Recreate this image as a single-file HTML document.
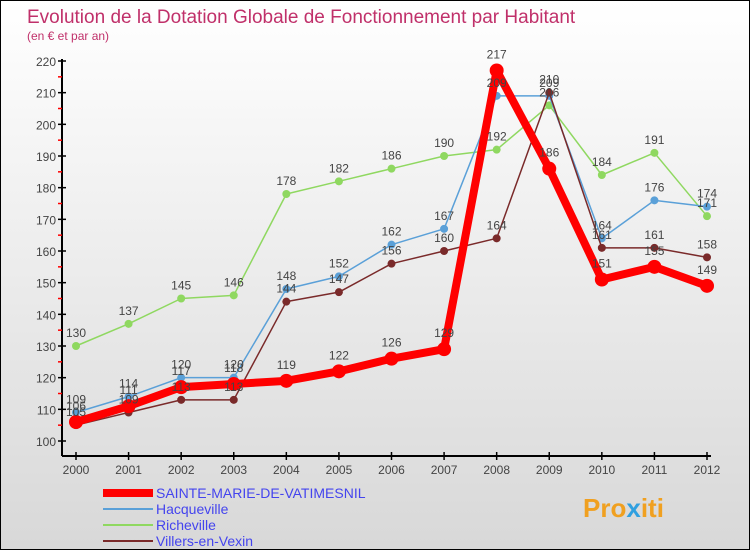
<!DOCTYPE html>
<html><head><meta charset="utf-8"><style>
body{margin:0;width:750px;height:550px;overflow:hidden;font-family:"Liberation Sans",sans-serif}
#c{position:absolute;left:0;top:0;width:748px;height:548px;border:1px solid #000;background:linear-gradient(#fff,#d8d8d8)}
</style></head><body>
<div id="c">
<svg id="s" width="748" height="548" xmlns="http://www.w3.org/2000/svg">
<text x="26" y="22" font-size="19" fill="#c0306a">Evolution de la Dotation Globale de Fonctionnement par Habitant</text>
<text x="26" y="39" font-size="12" fill="#c0306a">(en € et par an)</text>
<g id="axes"></g><g id="series"></g><g id="labels"></g>
<g>
<line x1="102" y1="492" x2="152" y2="492" stroke="#f00" stroke-width="8"/>
<text x="155" y="497" font-size="14" fill="#4444ee">SAINTE-MARIE-DE-VATIMESNIL</text>
<line x1="102" y1="508" x2="152" y2="508" stroke="#5aa0d8" stroke-width="2"/>
<text x="155" y="513" font-size="14" fill="#4444ee">Hacqueville</text>
<line x1="102" y1="524" x2="152" y2="524" stroke="#8fd860" stroke-width="2"/>
<text x="155" y="529" font-size="14" fill="#4444ee">Richeville</text>
<line x1="102" y1="540" x2="152" y2="540" stroke="#7a2a2a" stroke-width="2"/>
<text x="155" y="545" font-size="14" fill="#4444ee">Villers-en-Vexin</text>
</g>
<text x="582" y="516" font-size="26" font-weight="bold" fill="#f0a020">Pro<tspan fill="#30a0e0">x</tspan>iti</text>
</svg></div>
<script>
const years=[2000,2001,2002,2003,2004,2005,2006,2007,2008,2009,2010,2011,2012];
const yTicks=[100,110,120,130,140,150,160,170,180,190,200,210,220];
const sainteMarie=[106,111,117,118,119,122,126,129,217,186,151,155,149];
const hacqueville=[109,114,120,120,148,152,162,167,209,209,164,176,174];
const richeville=[130,137,145,146,178,182,186,190,192,206,184,191,171];
const villers=[105,109,113,113,144,147,156,160,164,210,161,161,158];
const NS="http://www.w3.org/2000/svg";
function X(i){return 75+i*(706-75)/(years.length-1);}
function Y(v){return 440-(v-100)*(380/120);}
function mk(t,a,p){const e=document.createElementNS(NS,t);for(const k in a)e.setAttribute(k,a[k]);p.appendChild(e);return e;}
const ax=document.getElementById('axes');
let l=mk('line',{x1:61,y1:58,x2:61,y2:455,stroke:'#000','stroke-width':2},ax);


l=mk('line',{x1:61,y1:455,x2:710,y2:455,stroke:'#000','stroke-width':2},ax);


yTicks.forEach((v,i)=>{
 mk('line',{x1:57,y1:Y(v),x2:65,y2:Y(v),stroke:'#000','stroke-width':1.5},ax);
 if(i<yTicks.length-1)mk('line',{x1:57,y1:Y(v+5),x2:61,y2:Y(v+5),stroke:'#f00','stroke-width':1.5},ax);
 const t=mk('text',{x:55,y:Y(v)+5,'font-size':12,fill:'#444','text-anchor':'end'},ax);
 t.textContent=v;
 
 
});
years.forEach((y,i)=>{
 mk('line',{x1:X(i),y1:451,x2:X(i),y2:459,stroke:'#000','stroke-width':1.5},ax);
 const t=mk('text',{x:X(i),y:473,'font-size':12,fill:'#444','text-anchor':'middle'},ax);
 t.textContent=y;
 
 
});
const sg=document.getElementById('series'),lg=document.getElementById('labels');
function draw(data,color,w,r,name,dy){
 const pts=data.map((v,i)=>X(i)+','+Y(v)).join(' ');
 const pl=mk('polyline',{points:pts,fill:'none',stroke:color,'stroke-width':w,'stroke-linejoin':'round'},sg);
 
 
 data.forEach((v,i)=>{
  const c=mk('circle',{cx:X(i),cy:Y(v),r:r,fill:color},sg);
  
  
  const t=mk('text',{x:X(i),y:Y(v)-dy,'font-size':12,fill:'#444','text-anchor':'middle'},lg);
  t.textContent=v;
  
  
 });
}
draw(richeville,'#8fd860',1.5,4,'richeville',9);
draw(hacqueville,'#5aa0d8',1.5,4,'hacqueville',9);
draw(villers,'#7a2a2a',1.5,4,'villers',9);
draw(sainteMarie,'#f00',8,7,'sainte-marie',12);
</script>
</body></html>
